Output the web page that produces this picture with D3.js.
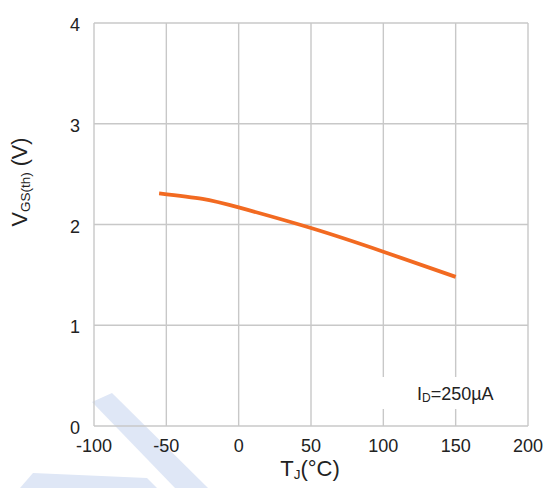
<!DOCTYPE html>
<html>
<head>
<meta charset="utf-8">
<script src="https://cdn.jsdelivr.net/npm/d3@7"></script>
<style>
  body { margin: 0; background: #fff; }
  svg { font-family: "Liberation Sans", Arial, sans-serif; }
</style>
</head>
<body>
<svg id="chart" width="552" height="488"></svg>
<script>
// data
const tempC = [-55, -25, 0, 50, 100, 150];
const vgsTh = [2.31, 2.255, 2.17, 1.965, 1.73, 1.48];
const xTicks = [-100, -50, 0, 50, 100, 150, 200];
const yTicks = [0, 1, 2, 3, 4];

const margin = { top: 23, right: 24, bottom: 62, left: 94 };
const width = 552, height = 488;

const svg = d3.select('#chart');

// watermark shapes
const wm = svg.append('g').attr('fill', '#dfe7f6');
wm.append('path').attr('d', 'M92,402 L112,393 L208,488 L175,488 Z');
wm.append('path').attr('d', 'M33,473 L147,478 L157,488 L20,488 Z');

const x = d3.scaleLinear().domain([-100, 200]).range([margin.left, width - margin.right]);
const y = d3.scaleLinear().domain([0, 4]).range([height - margin.bottom, margin.top]);

// grid
const grid = svg.append('g').attr('stroke', '#c8c8c8').attr('stroke-width', 1.4);
xTicks.forEach(t => {
    grid.append('line')
        .attr('x1', x(t)).attr('x2', x(t))
        .attr('y1', y(0)).attr('y2', y(4));
});
yTicks.forEach(t => {
    grid.append('line')
        .attr('x1', x(-100)).attr('x2', x(200))
        .attr('y1', y(t)).attr('y2', y(t));
});

// legend box (covers grid)
svg.append('rect')
    .attr('x', 372).attr('y', 377).attr('width', 140).attr('height', 32)
    .attr('fill', '#fff');
const leg = svg.append('text')
    .attr('x', 417).attr('y', 400)
    .attr('font-size', 18).attr('fill', '#222');
leg.append('tspan').text('I');
leg.append('tspan').attr('font-size', 12).attr('dy', 2).text('D');
leg.append('tspan').attr('dy', -2).text('=250µA');

// curve
const line = d3.line()
    .x((d, i) => x(tempC[i]))
    .y(d => y(d))
    .curve(d3.curveNatural);
svg.append('path')
    .datum(vgsTh)
    .attr('d', line)
    .attr('fill', 'none')
    .attr('stroke', '#f26a21')
    .attr('stroke-width', 3.8);

// tick labels
svg.append('g')
    .selectAll('text')
    .data(xTicks)
    .join('text')
    .attr('x', d => x(d))
    .attr('y', 452)
    .attr('text-anchor', 'middle')
    .attr('font-size', 18)
    .attr('fill', '#222')
    .text(d => d);

svg.append('g')
    .selectAll('text')
    .data(yTicks)
    .join('text')
    .attr('x', 80)
    .attr('y', d => y(d) + 8)
    .attr('text-anchor', 'end')
    .attr('font-size', 18)
    .attr('fill', '#222')
    .text(d => d);

// axis titles
const xt = svg.append('text')
    .attr('x', 310).attr('y', 476)
    .attr('text-anchor', 'middle')
    .attr('font-size', 22).attr('fill', '#222');
xt.append('tspan').text('T');
xt.append('tspan').attr('font-size', 13.5).attr('dy', 3).text('J');
xt.append('tspan').attr('dy', -3).text('(°C)');

const yt = svg.append('text')
    .attr('transform', 'translate(27,182) rotate(-90)')
    .attr('text-anchor', 'middle')
    .attr('font-size', 21.5).attr('fill', '#222');
yt.append('tspan').text('V');
yt.append('tspan').attr('font-size', 13.5).attr('dy', 3).text('GS(th)');
yt.append('tspan').attr('dy', -3).text(' (V)');
</script>
</body>
</html>
